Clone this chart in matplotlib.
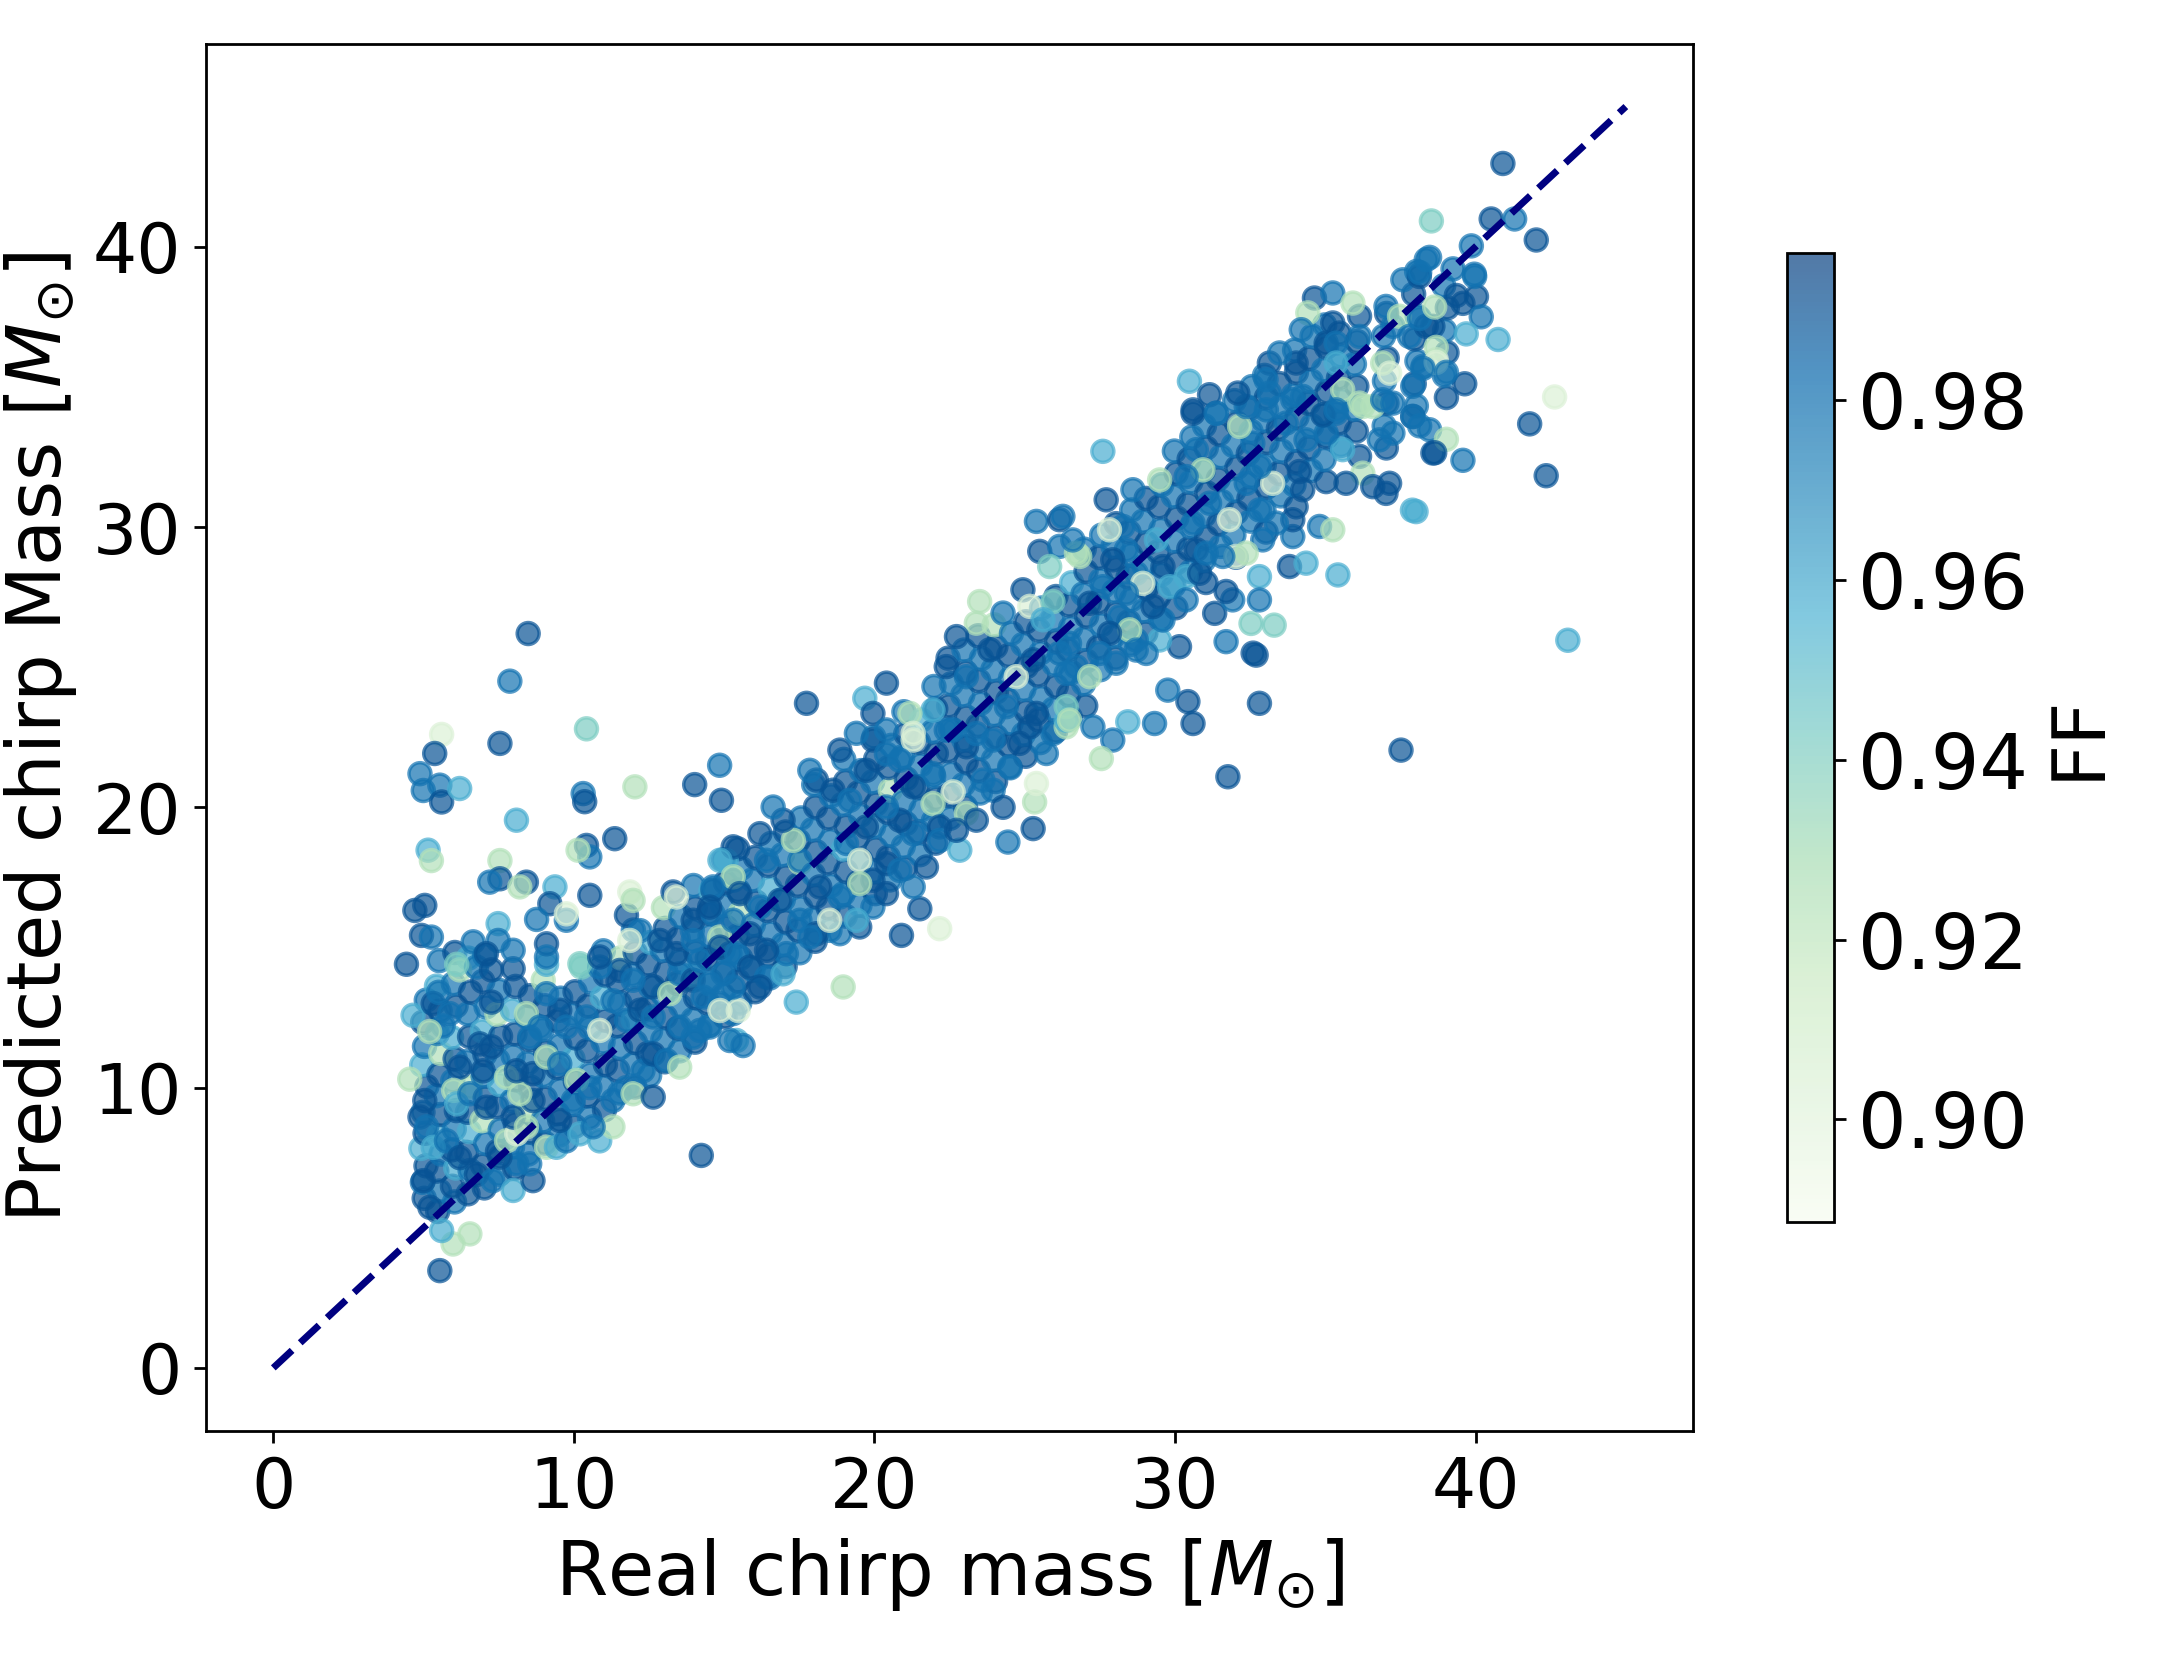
import matplotlib
matplotlib.use("Agg")
import matplotlib.pyplot as plt
import numpy as np

# FF levels (GnBu scale)
D, M, T, G, L, V = 0.990, 0.979, 0.958, 0.942, 0.925, 0.905

# --- points read region by region: (real chirp mass, predicted chirp mass, FF)
low_mass_points = [
    (4.43, 14.40, D), (5.54, 3.47, D), (14.24, 7.58, D), (6.54, 4.78, L), (5.98, 4.42, L), (5.60, 4.90, T),
    (4.54, 10.30, L), (4.65, 12.58, T), (5.21, 5.73, D), (4.99, 6.68, D), (4.88, 8.95, D), (5.04, 9.54, D),
    (5.32, 13.00, D), (5.50, 13.40, M), (5.65, 12.20, M), (5.20, 12.00, L), (5.87, 12.64, M), (6.20, 14.20, L),
    (6.76, 14.30, M), (7.26, 14.20, D), (7.26, 13.05, D), (7.98, 14.24, D), (9.09, 14.40, T), (10.25, 14.30, G),
    (6.20, 10.73, D), (6.98, 10.60, D), (6.87, 11.56, D), (7.26, 11.45, D), (6.00, 9.90, L), (6.10, 9.42, T),
    (6.54, 9.78, M), (5.10, 8.60, M), (5.32, 7.87, T), (5.76, 8.10, M), (6.20, 7.50, D), (6.76, 6.90, D),
    (7.30, 6.68, M), (7.98, 6.33, T), (8.64, 6.68, D), (8.53, 7.28, M), (8.10, 7.28, M), (7.54, 7.52, D),
    (7.76, 8.10, L), (8.10, 8.35, V), (9.09, 7.87, L), (9.42, 7.87, T), (9.75, 8.10, M), (10.20, 8.35, T),
    (10.86, 8.10, T), (11.30, 8.60, L), (10.64, 8.60, M), (9.53, 8.83, D), (7.09, 9.30, D), (7.98, 8.95, D),
    (8.42, 8.60, L), (8.64, 9.54, D), (8.20, 9.78, L), (7.76, 10.37, L), (8.09, 10.60, D), (8.64, 10.50, D),
    (9.09, 11.09, L), (9.53, 10.85, M), (10.09, 10.26, L), (10.53, 10.00, M), (9.98, 9.54, M), (11.30, 9.54, M),
    (11.75, 10.00, M), (11.97, 9.78, L), (12.64, 9.66, D), (12.30, 10.60, M), (12.64, 11.20, D), (13.08, 10.97, M),
    (13.52, 10.73, L), (13.97, 11.80, M), (14.52, 12.16, M), (15.30, 12.64, M), (15.41, 11.68, T), (13.52, 12.16, M),
    (8.42, 12.64, L), (8.53, 11.80, M), (8.87, 12.16, M), (9.53, 12.76, D), (9.75, 12.16, M), (10.42, 12.52, M),
    (10.86, 12.04, V), (11.30, 13.10, M), (11.75, 12.40, M), (12.20, 12.76, D), (12.64, 12.52, M), (12.64, 13.60, D),
    (13.19, 13.35, L), (13.52, 14.06, M), (13.97, 13.83, D), (14.30, 13.23, M), (14.85, 13.00, M), (14.96, 14.06, M),
    (11.53, 14.18, D), (10.86, 14.30, M), (11.97, 13.83, M), (9.09, 13.35, M),
]

low_mass_scatter_up = [
    (8.48, 26.20, D), (7.87, 24.50, M), (10.42, 22.80, G), (5.60, 22.60, V), (5.37, 21.92, D), (4.88, 21.20, M),
    (4.99, 20.60, M), (5.54, 20.79, M), (5.60, 20.19, D), (6.20, 20.67, T), (7.54, 22.28, D), (8.09, 19.54, T),
    (10.31, 20.49, M), (10.36, 20.20, D), (12.03, 20.73, L), (14.02, 20.81, D), (14.85, 21.50, M), (14.91, 20.25, D),
    (5.15, 18.47, T), (5.26, 18.10, L), (7.54, 18.10, L), (10.42, 18.64, D), (10.53, 18.23, M), (10.14, 18.47, L),
    (11.36, 18.88, D), (8.42, 17.33, D), (7.54, 17.45, D), (7.20, 17.33, M), (8.20, 17.16, L), (9.37, 17.16, T),
    (10.53, 16.86, D), (9.20, 16.56, D), (9.75, 15.97, M), (8.76, 16.00, M), (9.75, 16.20, V), (11.75, 16.15, D),
    (11.86, 16.98, V), (11.97, 16.68, L), (13.30, 16.98, D), (13.41, 16.80, V), (12.20, 15.60, M), (11.86, 15.25, V),
    (4.71, 16.32, D), (5.04, 16.50, D), (4.93, 15.43, D), (5.26, 15.37, M), (6.10, 14.40, G), (6.65, 15.20, M),
    (7.48, 15.85, T), (7.48, 15.25, M), (7.98, 14.90, M), (7.09, 14.78, D), (9.09, 15.13, D), (9.09, 14.66, M),
    (10.20, 14.42, G), (10.86, 14.66, D), (14.63, 17.04, D), (15.07, 18.10, T), (15.30, 17.40, M), (13.97, 15.97, D),
    (14.63, 16.20, M), (12.86, 15.25, D), (13.41, 14.78, D), (13.97, 15.25, M), (14.85, 15.37, L), (15.19, 14.78, M),
]

mid_mass_points = [
    (25.28, 19.24, D), (24.44, 18.76, M), (25.33, 20.19, L), (25.39, 20.85, V), (22.17, 15.67, V), (20.90, 15.43, D),
    (21.51, 16.38, D), (18.96, 13.59, L), (17.40, 13.05, T), (15.63, 11.50, M), (15.19, 11.68, M), (15.47, 12.75, V),
    (14.19, 12.04, M), (18.85, 22.04, D), (19.73, 21.32, D), (18.07, 20.97, D), (17.85, 21.32, M), (18.62, 20.61, D),
    (19.18, 20.25, M), (19.95, 22.40, D), (20.40, 21.90, M), (21.29, 22.40, V), (20.84, 21.68, M), (21.95, 21.20, M),
    (22.62, 20.55, V), (23.06, 19.78, L), (23.39, 19.54, D), (23.95, 20.61, M), (24.28, 20.00, D), (23.61, 20.97, M),
    (24.50, 21.44, M), (24.83, 22.28, D), (25.72, 21.92, M), (25.94, 22.63, M), (26.38, 22.87, L), (25.17, 22.87, D),
    (23.95, 22.40, M), (23.06, 22.16, D), (22.39, 22.75, M), (23.39, 22.63, M), (21.29, 20.73, D), (21.95, 20.13, L),
    (22.17, 19.30, D), (21.29, 19.06, M), (20.84, 19.54, D), (20.40, 20.01, M), (19.73, 19.30, D), (19.07, 18.71, M),
    (19.51, 18.11, V), (20.40, 17.99, D), (20.84, 17.75, M), (19.95, 17.40, D), (19.51, 17.28, L), (18.85, 16.80, M),
    (18.18, 17.16, D), (17.52, 18.11, M), (17.30, 18.82, L), (16.96, 19.54, D), (16.63, 20.01, M), (16.19, 19.06, D),
    (16.41, 18.11, M), (15.30, 18.59, D), (14.86, 18.11, T), (15.30, 17.52, L), (14.63, 17.16, M), (15.52, 16.92, D),
    (16.19, 16.44, M), (16.85, 16.68, D), (17.52, 15.97, M), (18.07, 15.49, D), (18.85, 15.49, M), (19.51, 15.73, D),
    (19.95, 16.44, M), (20.40, 16.92, D), (21.29, 17.16, M), (21.73, 17.87, D), (22.17, 18.82, M), (22.84, 18.47, T),
    (22.73, 19.18, D), (19.40, 15.97, T), (18.51, 15.97, V), (14.19, 14.54, M), (14.86, 15.01, D), (15.41, 14.78, M),
    (15.85, 14.30, D), (16.41, 13.94, M), (16.96, 14.06, T), (17.07, 14.78, M), (16.41, 14.90, D), (17.85, 15.37, M),
    (15.85, 15.49, D), (15.30, 15.97, M), (14.52, 16.44, D), (14.86, 12.75, V), (14.52, 13.70, M), (15.30, 13.59, M),
    (16.19, 13.59, D),
    (17.74, 23.71, D), (20.40, 24.43, D), (19.68, 23.89, T), (25.39, 30.20, M), (26.16, 30.26, D), (25.50, 29.13, D),
    (26.16, 29.31, M), (25.83, 28.59, G), (26.72, 29.07, L), (23.50, 27.34, L), (23.39, 26.57, L), (24.94, 27.76, D),
    (24.28, 26.93, M), (25.17, 27.17, V), (25.94, 27.34, G), (25.61, 26.69, T), (22.73, 26.09, D), (22.39, 25.02, D),
    (23.06, 24.66, M), (23.84, 25.62, D), (24.72, 24.66, V), (25.28, 25.26, D), (26.16, 25.50, M), (26.38, 24.78, M),
    (24.39, 23.59, M), (25.39, 23.35, D), (26.38, 23.11, T), (21.95, 23.47, T), (21.18, 23.35, L), (19.95, 23.35, D),
    (20.40, 22.76, M), (21.29, 22.64, V), (22.62, 22.76, M), (19.40, 22.64, M),
]

high_mass_points = [
    (27.60, 32.70, T), (38.02, 30.55, T), (35.42, 28.29, T), (32.81, 23.71, D), (37.52, 22.04, D), (31.76, 21.09, D),
    (32.70, 25.43, D), (31.70, 25.91, M), (32.53, 26.56, G), (31.32, 26.92, D), (30.60, 22.99, D), (30.43, 23.77, D),
    (29.32, 22.99, M), (28.43, 23.05, T), (27.93, 22.40, M), (27.55, 21.74, L), (29.76, 24.18, M), (30.15, 25.73, D),
    (29.49, 25.97, T), (28.71, 25.97, M), (32.81, 28.23, T), (32.81, 27.40, M), (31.92, 27.40, M), (31.70, 27.70, D),
    (32.92, 29.54, M), (33.81, 28.59, D), (34.36, 28.71, T), (33.92, 29.66, M), (34.81, 30.02, M), (35.25, 29.90, L),
    (33.92, 30.26, D), (33.37, 30.14, M), (32.03, 28.95, V), (32.37, 29.07, L), (31.59, 28.95, M), (30.71, 29.19, D),
    (30.37, 28.23, T), (29.60, 28.59, D), (29.38, 29.54, T), (30.60, 30.14, M), (31.15, 30.85, M), (31.81, 30.26, V),
    (32.81, 30.61, M), (34.25, 31.33, D), (33.25, 31.56, V), (32.37, 31.56, M), (32.81, 32.16, M), (32.59, 32.99, M),
    (32.15, 33.59, L), (31.37, 34.06, M), (30.60, 34.06, D), (30.71, 32.76, M), (30.93, 32.04, L), (30.37, 31.80, M),
    (29.49, 31.68, L), (28.60, 31.33, M), (27.71, 30.97, D), (28.27, 30.02, M), (27.82, 29.90, V), (28.38, 29.19, M),
    (27.93, 28.83, D), (26.83, 28.95, L), (26.27, 30.38, M), (26.60, 29.54, M), (28.71, 28.35, M), (28.93, 27.99, V),
    (28.38, 27.64, M), (27.60, 27.87, M), (27.16, 27.28, D), (28.16, 26.80, M), (28.49, 26.33, L), (27.82, 26.21, D),
    (27.49, 25.49, M), (26.49, 25.85, M), (26.71, 25.02, M), (27.16, 24.66, L), (28.04, 25.14, M), (28.71, 25.61, M),
    (29.04, 25.49, M), (29.60, 26.68, M), (29.82, 27.87, T), (30.37, 27.40, M), (30.82, 28.35, D), (31.04, 29.07, M),
    (29.27, 27.16, D), (26.38, 23.59, G), (26.49, 23.11, L), (27.27, 22.87, M),
    (36.14, 32.52, D), (35.58, 32.76, T), (36.25, 31.92, L), (35.69, 31.56, D), (36.58, 31.44, D), (37.14, 31.56, D),
    (37.02, 31.20, D), (36.80, 33.11, M), (37.25, 33.35, M), (37.91, 33.94, D), (38.47, 33.47, M), (38.58, 32.64, D),
    (34.14, 31.98, D), (34.36, 33.11, M), (35.03, 33.35, M), (35.36, 34.06, M), (34.92, 34.00, D), (33.70, 33.71, M),
    (33.04, 34.18, M), (32.37, 34.30, M), (36.14, 34.42, L), (36.58, 34.30, L), (37.25, 34.42, M),
    (30.48, 35.20, T), (31.15, 34.72, D), (32.09, 34.78, D), (30.60, 34.18, D), (31.37, 34.06, M), (33.14, 35.85, D),
    (34.03, 35.85, D), (33.48, 36.21, M), (33.03, 35.26, M), (33.14, 34.78, M), (33.92, 34.54, M), (34.25, 34.66, M),
    (34.64, 38.17, D), (35.25, 38.35, M), (34.42, 37.64, L), (35.25, 37.28, D), (36.14, 37.52, D), (35.92, 37.99, L),
    (34.20, 37.04, M), (35.03, 36.56, D), (35.36, 36.56, M), (35.36, 35.85, T), (35.58, 34.90, L), (36.25, 34.30, L),
    (35.36, 34.18, M), (36.14, 36.80, M), (36.91, 35.85, L), (37.14, 35.49, V), (37.25, 37.16, M), (37.02, 37.87, M),
    (37.47, 37.52, L), (37.80, 36.80, M), (37.58, 38.82, M), (38.13, 38.94, D), (38.36, 39.54, M), (38.36, 37.16, D),
    (38.69, 35.97, V), (38.25, 35.73, M), (37.91, 35.02, M), (36.91, 34.54, M), (37.91, 33.95, M),
    (40.91, 42.97, D), (38.53, 40.92, G), (40.52, 40.99, D), (41.30, 40.99, M), (42.02, 40.24, D), (39.86, 40.03, M),
    (38.47, 39.62, M), (39.25, 39.21, M), (39.97, 38.94, M), (38.14, 39.08, M), (39.36, 38.26, D), (39.58, 37.98, D),
    (40.19, 37.50, M), (39.69, 36.89, T), (40.75, 36.69, T), (38.58, 37.16, D), (38.14, 37.44, M), (38.64, 37.85, L),
    (38.69, 36.41, L), (38.69, 35.87, V), (38.25, 35.66, M), (39.64, 35.11, D), (39.03, 35.52, M), (42.63, 34.64, V),
    (41.80, 33.68, D), (42.35, 31.83, D), (43.07, 25.96, T), (39.03, 33.13, L), (38.64, 32.65, D), (39.58, 32.38, M),
    (38.14, 33.61, M), (37.90, 30.60, T), (33.30, 26.50, G), (32.60, 25.50, D),
]

# dense core of the band, estimated column by column
band_core_low = [
    (5.02, 6.05, D), (4.96, 6.62, M), (5.08, 7.21, D), (4.91, 7.83, T), (5.05, 8.37, D), (4.98, 9.12, M),
    (5.11, 10.04, D), (4.94, 10.81, T), (5.03, 11.47, M), (4.97, 12.33, D), (5.09, 13.12, M),
    (5.47, 5.58, D), (5.53, 6.31, M), (5.44, 7.02, D), (5.58, 7.63, M), (5.49, 8.29, T), (5.56, 9.04, D),
    (5.42, 9.71, M), (5.51, 10.46, D), (5.57, 11.22, L), (5.46, 11.93, M), (5.55, 12.74, D), (5.43, 13.62, T),
    (5.52, 14.53, M), (6.03, 5.92, M), (5.96, 6.48, D), (6.07, 7.13, T), (5.94, 7.78, D), (6.02, 8.52, M),
    (6.09, 9.18, D), (5.97, 10.24, M), (6.05, 11.03, D), (5.93, 11.79, T), (6.08, 12.91, D), (5.99, 13.71, M),
    (6.04, 14.82, D), (6.48, 6.21, D), (6.55, 7.04, M), (6.43, 7.69, D), (6.52, 8.43, T), (6.46, 9.12, D),
    (6.57, 10.02, L), (6.44, 10.93, M), (6.53, 11.82, D), (6.47, 12.63, M), (6.56, 13.41, D), (6.49, 14.62, T),
    (7.02, 6.42, D), (6.96, 7.23, D), (7.07, 8.01, M), (6.94, 8.82, L), (7.05, 9.63, D), (6.98, 10.41, M),
    (7.04, 11.18, D), (6.95, 12.02, T), (7.08, 12.88, M), (6.97, 13.79, D), (7.03, 14.71, M),
    (7.52, 6.91, M), (7.46, 7.73, D), (7.55, 8.49, M), (7.43, 9.32, D), (7.53, 10.11, T), (7.47, 10.98, M),
    (7.56, 11.83, D), (7.44, 12.62, L), (7.51, 13.47, M), (8.03, 7.12, D), (7.96, 7.88, M), (8.05, 8.71, D),
    (7.94, 9.53, M), (8.07, 10.28, D), (7.98, 11.13, M), (8.04, 11.92, D), (7.95, 12.77, T), (8.06, 13.61, D),
    (8.48, 7.63, M), (8.54, 8.42, D), (8.45, 9.21, L), (8.56, 10.02, D), (8.47, 10.88, M), (8.53, 11.71, D),
    (8.44, 12.52, M), (8.55, 13.28, D), (9.03, 8.02, D), (8.96, 8.81, M), (9.05, 9.62, D), (8.97, 10.43, M),
    (9.06, 11.28, D), (8.94, 12.07, M), (9.04, 12.92, D), (8.98, 13.83, L), (9.52, 8.31, M), (9.46, 9.07, D),
    (9.55, 9.92, M), (9.44, 10.71, D), (9.53, 11.52, M), (9.47, 12.38, D), (9.56, 13.19, M),
    (10.03, 8.62, D), (9.96, 9.41, M), (10.05, 10.22, D), (9.97, 11.03, T), (10.06, 11.77, D), (9.94, 12.61, M),
    (10.04, 13.42, D), (10.52, 8.93, M), (10.46, 9.71, D), (10.55, 10.48, M), (10.44, 11.32, D), (10.53, 12.13, M),
    (10.47, 12.92, D), (10.56, 13.77, M), (11.02, 9.21, D), (10.96, 10.03, M), (11.05, 10.82, D), (10.97, 11.63, M),
    (11.06, 12.41, D), (10.94, 13.22, T), (11.04, 14.02, D), (10.98, 14.88, M), (11.52, 9.81, M), (11.46, 10.62, D),
    (11.55, 11.43, M), (11.44, 12.21, D), (11.53, 13.02, M), (11.47, 13.79, D), (11.56, 14.63, L),
    (12.03, 10.02, D), (11.96, 10.83, M), (12.05, 11.61, D), (11.97, 12.42, T), (12.06, 13.18, D), (11.94, 14.03, M),
    (12.04, 14.82, D), (11.98, 15.62, M), (12.52, 10.43, M), (12.46, 11.22, D), (12.55, 12.01, M), (12.44, 12.83, D),
    (12.53, 13.62, M), (12.47, 14.41, D), (12.56, 15.18, T), (13.03, 10.92, D), (12.96, 11.71, M), (13.05, 12.52, D),
    (12.97, 13.31, M), (13.06, 14.12, D), (12.94, 14.91, M), (13.04, 15.68, D), (12.98, 16.42, L),
    (13.52, 11.31, M), (13.46, 12.12, D), (13.55, 12.91, M), (13.44, 13.72, D), (13.53, 14.51, M), (13.47, 15.32, D),
    (13.56, 16.11, M), (14.03, 11.62, D), (13.96, 12.43, M), (14.05, 13.21, D), (13.97, 14.02, T), (14.06, 14.83, D),
    (13.94, 15.61, M), (14.04, 16.42, D), (13.98, 17.21, M), (14.52, 12.23, M), (14.46, 13.02, D), (14.55, 13.81, M),
    (14.44, 14.62, D), (14.53, 15.41, M), (14.47, 16.22, D), (14.56, 17.03, T),
]

band_core_mid = [
    (15.03, 12.52, D), (14.96, 13.31, M), (15.05, 14.12, D), (14.97, 14.91, M), (15.06, 15.72, D), (14.94, 16.51, M),
    (15.04, 17.32, D), (14.98, 18.13, M), (15.52, 13.02, M), (15.46, 13.81, D), (15.55, 14.62, M), (15.44, 15.41, D),
    (15.53, 16.22, L), (15.47, 17.03, D), (15.56, 17.82, M), (15.45, 18.52, D), (16.03, 13.42, D), (15.96, 14.21, M),
    (16.05, 15.02, D), (15.97, 15.81, M), (16.06, 16.62, D), (15.94, 17.41, M), (16.04, 18.22, D),
    (16.52, 13.91, M), (16.46, 14.72, D), (16.55, 15.51, M), (16.44, 16.32, D), (16.53, 17.11, T), (16.47, 17.92, D),
    (16.56, 18.71, M), (17.03, 14.32, D), (16.96, 15.11, M), (17.05, 15.92, D), (16.97, 16.71, M), (17.06, 17.52, D),
    (16.94, 18.31, M), (17.04, 19.12, D), (17.52, 14.81, M), (17.46, 15.62, D), (17.55, 16.41, M), (17.44, 17.22, D),
    (17.53, 18.02, L), (17.47, 18.81, D), (17.56, 19.62, M), (18.03, 15.22, D), (17.96, 16.01, M), (18.05, 16.82, D),
    (17.97, 17.61, M), (18.06, 18.42, D), (17.94, 19.21, M), (18.04, 20.02, D), (17.98, 20.81, M),
    (18.52, 15.61, M), (18.46, 16.42, D), (18.55, 17.21, M), (18.44, 18.02, D), (18.53, 18.81, M), (18.47, 19.62, D),
    (18.56, 20.41, M), (19.03, 16.12, D), (18.96, 16.91, M), (19.05, 17.72, D), (18.97, 18.51, T), (19.06, 19.32, D),
    (18.94, 20.11, M), (19.04, 20.92, D), (18.98, 21.71, M), (19.52, 16.51, M), (19.46, 17.32, D), (19.55, 18.11, M),
    (19.44, 18.92, D), (19.53, 19.71, M), (19.47, 20.52, D), (19.56, 21.31, M), (20.03, 16.92, D), (19.96, 17.71, M),
    (20.05, 18.52, D), (19.97, 19.31, M), (20.06, 20.12, D), (19.94, 20.91, M), (20.04, 21.72, D), (19.98, 22.51, M),
    (20.52, 17.41, M), (20.46, 18.22, D), (20.55, 19.01, M), (20.44, 19.82, D), (20.53, 20.61, L), (20.47, 21.42, D),
    (20.56, 22.21, M), (21.03, 17.82, D), (20.96, 18.61, M), (21.05, 19.42, D), (20.97, 20.21, M), (21.06, 21.02, D),
    (20.94, 21.81, M), (21.04, 22.62, D), (20.98, 23.41, M), (21.52, 18.31, M), (21.46, 19.12, D), (21.55, 19.91, M),
    (21.44, 20.72, D), (21.53, 21.51, M), (21.47, 22.32, D), (21.56, 23.11, T), (22.03, 18.72, D), (21.96, 19.51, M),
    (22.05, 20.32, D), (21.97, 21.11, M), (22.06, 21.92, D), (21.94, 22.71, M), (22.04, 23.52, D), (21.98, 24.31, M),
    (22.52, 19.61, M), (22.46, 20.42, D), (22.55, 21.21, M), (22.44, 22.02, D), (22.53, 22.81, M), (22.47, 23.62, D),
    (22.56, 24.41, M), (22.45, 25.32, D), (23.03, 20.02, D), (22.96, 20.81, M), (23.05, 21.62, D), (22.97, 22.41, M),
    (23.06, 23.22, D), (22.94, 24.01, M), (23.04, 24.82, D), (22.98, 25.61, M), (23.52, 20.51, M), (23.46, 21.32, D),
    (23.55, 22.11, M), (23.44, 22.92, D), (23.53, 23.71, M), (23.47, 24.52, D), (23.56, 25.31, M), (23.45, 26.12, D),
    (24.03, 20.92, D), (23.96, 21.71, M), (24.05, 22.52, D), (23.97, 23.31, M), (24.06, 24.12, D), (23.94, 24.91, M),
    (24.04, 25.72, D), (23.98, 26.51, L), (24.52, 21.41, M), (24.46, 22.22, D), (24.55, 23.01, M), (24.44, 23.82, D),
    (24.53, 24.61, M), (24.47, 25.42, D), (24.56, 26.21, M), (25.03, 21.82, D), (24.96, 22.61, M), (25.05, 23.42, D),
    (24.97, 24.21, M), (25.06, 25.02, D), (24.94, 25.81, M), (25.04, 26.62, D),
]

band_core_high = [
    (25.52, 22.31, M), (25.46, 23.12, D), (25.55, 23.91, M), (25.44, 24.72, D), (25.53, 25.51, M), (25.47, 26.32, D),
    (25.56, 27.11, M), (26.03, 22.72, D), (25.96, 23.51, M), (26.05, 24.32, D), (25.97, 25.11, M), (26.06, 25.92, D),
    (25.94, 26.71, M), (26.04, 27.52, D), (26.52, 23.21, M), (26.46, 24.02, D), (26.55, 24.81, M), (26.44, 25.62, D),
    (26.53, 26.41, M), (26.47, 27.22, D), (26.56, 28.01, T), (27.03, 23.62, D), (26.96, 24.41, M), (27.05, 25.22, D),
    (26.97, 26.01, M), (27.06, 26.82, D), (26.94, 27.61, M), (27.04, 28.42, D), (26.98, 29.21, M),
    (27.52, 24.91, M), (27.46, 25.72, D), (27.55, 26.51, M), (27.44, 27.32, D), (27.53, 28.11, M), (27.47, 28.92, D),
    (27.56, 29.71, M), (28.03, 25.32, D), (27.96, 26.11, M), (28.05, 26.92, D), (27.97, 27.71, M), (28.06, 28.52, D),
    (27.94, 29.31, M), (28.04, 30.12, D), (28.52, 25.81, M), (28.46, 26.62, D), (28.55, 27.41, M), (28.44, 28.22, D),
    (28.53, 29.01, M), (28.47, 29.82, D), (28.56, 30.61, M), (29.03, 26.22, D), (28.96, 27.01, M), (29.05, 27.82, D),
    (28.97, 28.61, M), (29.06, 29.42, D), (28.94, 30.21, M), (29.04, 31.02, D), (29.52, 26.71, M), (29.46, 27.52, D),
    (29.55, 28.31, M), (29.44, 29.12, D), (29.53, 29.91, M), (29.47, 30.72, D), (29.56, 31.51, M),
    (30.03, 27.12, D), (29.96, 27.91, M), (30.05, 28.72, D), (29.97, 29.51, M), (30.06, 30.32, D), (29.94, 31.11, M),
    (30.04, 31.92, D), (29.98, 32.71, M), (30.52, 28.41, M), (30.46, 29.22, D), (30.55, 30.01, M), (30.44, 30.82, D),
    (30.53, 31.61, M), (30.47, 32.42, D), (30.56, 33.21, M), (31.03, 28.02, D), (30.96, 28.81, M), (31.05, 29.62, D),
    (30.97, 30.41, M), (31.06, 31.22, D), (30.94, 32.01, M), (31.04, 32.82, D), (30.98, 33.61, M),
    (31.52, 29.31, M), (31.46, 30.12, D), (31.55, 30.91, M), (31.44, 31.72, D), (31.53, 32.51, M), (31.47, 33.32, D),
    (32.03, 28.92, D), (31.96, 29.71, M), (32.05, 30.52, D), (31.97, 31.31, M), (32.06, 32.12, D), (31.94, 32.91, M),
    (32.04, 33.72, D), (31.98, 34.51, M), (32.52, 30.21, M), (32.46, 31.02, D), (32.55, 31.81, M), (32.44, 32.62, D),
    (32.53, 33.41, M), (32.47, 34.22, D), (32.56, 35.01, M), (33.03, 29.82, D), (32.96, 30.61, M), (33.05, 31.42, D),
    (32.97, 32.21, M), (33.06, 33.02, D), (32.94, 33.81, M), (33.04, 34.62, D), (32.98, 35.41, M),
    (33.52, 31.11, M), (33.46, 31.92, D), (33.55, 32.71, M), (33.44, 33.52, D), (33.53, 34.31, M), (33.47, 35.12, D),
    (34.03, 30.72, D), (33.96, 31.51, M), (34.05, 32.32, D), (33.97, 33.11, M), (34.06, 33.92, D), (33.94, 34.71, M),
    (34.04, 35.52, D), (33.98, 36.31, M), (34.52, 32.01, M), (34.46, 32.82, D), (34.55, 33.61, M), (34.44, 34.42, D),
    (34.53, 35.21, M), (34.47, 36.02, D), (34.56, 36.81, M), (35.03, 31.62, D), (34.96, 32.41, M), (35.05, 33.22, D),
    (34.97, 34.01, M), (35.06, 34.82, D), (34.94, 35.61, M), (35.04, 36.42, D), (34.98, 37.21, M),
    (35.52, 32.91, M), (35.46, 33.72, D), (35.55, 34.51, M), (35.44, 35.32, D), (35.53, 36.11, M), (35.47, 36.92, D),
    (36.03, 33.42, D), (35.96, 34.21, M), (36.05, 35.02, D), (35.97, 35.81, M), (36.06, 36.62, D),
    (37.03, 32.82, D), (36.96, 33.61, M), (37.05, 34.42, D), (36.97, 35.21, M), (37.06, 36.02, D), (36.94, 36.81, M),
    (37.04, 37.62, D), (38.03, 34.32, M), (37.96, 35.11, D), (38.05, 35.92, M), (37.97, 36.71, D), (38.06, 37.52, M),
    (37.94, 38.31, D), (38.04, 39.12, M), (39.03, 34.62, D), (38.96, 35.41, M), (39.05, 36.22, D), (38.97, 37.01, M),
    (39.06, 37.82, D), (38.94, 38.61, M), (40.03, 38.22, D), (39.96, 39.02, M),
]

x_ticks = [0, 10, 20, 30, 40]
y_ticks = [0, 10, 20, 30, 40]
ff_ticks = [0.90, 0.92, 0.94, 0.96, 0.98]
ff_min, ff_max = 0.8886, 0.9964
diagonal = [0, 45]

groups = [band_core_low, band_core_mid, band_core_high,
          low_mass_points, low_mass_scatter_up, mid_mass_points, high_mass_points]
all_pts = [p for g in groups for p in g]
real_mass = np.array([p[0] for p in all_pts])
pred_mass = np.array([p[1] for p in all_pts])
ff = np.array([p[2] for p in all_pts])

fig = plt.figure(figsize=(2165 / 250, 1661 / 250), dpi=250)
ax = fig.add_axes([0.0950, 0.1385, 0.6872, 0.8353])
sc = ax.scatter(real_mass, pred_mass, c=ff, cmap="GnBu", vmin=ff_min, vmax=ff_max,
                s=40, alpha=0.7)
ax.plot(diagonal, diagonal, "--", color="navy", lw=2)

ax.set_xticks(x_ticks)
ax.set_yticks(y_ticks)
ax.tick_params(labelsize=20)
ax.set_xlabel(r"Real chirp mass [$M_{\odot}$]", fontsize=21.7)
ax.set_ylabel(r"Predicted chirp Mass [$M_{\odot}$]", fontsize=21.7)

cax = fig.add_axes([0.8252, 0.2644, 0.0217, 0.5835])
cb = fig.colorbar(sc, cax=cax, ticks=ff_ticks)
cb.ax.set_yticklabels([f"{t:.2f}" for t in ff_ticks])
cb.ax.tick_params(labelsize=22)
cb.set_label("FF", fontsize=21.7)

fig.savefig("out.png", dpi=250)
